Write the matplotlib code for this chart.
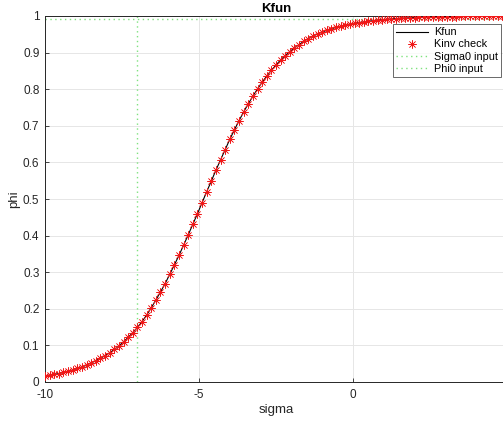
import matplotlib
matplotlib.use('Agg')
import matplotlib.pyplot as plt
import numpy as np

plt.rcParams['font.family'] = ['Liberation Sans', 'DejaVu Sans']

# sigma grid: -10 to 5 in steps of 0.15
sigma = np.linspace(-10, 5, 101)

# phi values
phi = [
    0.017, 0.019, 0.021, 0.023, 0.026, 0.029, 0.033, 0.037, 0.041, 0.046,
    0.052, 0.058, 0.065, 0.072, 0.080, 0.089, 0.099, 0.110, 0.122, 0.135,
    0.149, 0.165, 0.183, 0.203, 0.224, 0.246, 0.269, 0.294, 0.320, 0.346,
    0.374, 0.402, 0.431, 0.460, 0.490, 0.520, 0.549, 0.579, 0.607, 0.635,
    0.663, 0.689, 0.714, 0.738, 0.760, 0.781, 0.801, 0.819, 0.836, 0.852,
    0.866, 0.880, 0.892, 0.903, 0.913, 0.922, 0.931, 0.938, 0.945, 0.951,
    0.956, 0.961, 0.965, 0.969, 0.972, 0.975, 0.978, 0.980, 0.982, 0.984,
    0.986, 0.987, 0.989, 0.990, 0.991, 0.992, 0.993, 0.994, 0.9945, 0.995,
    0.9957, 0.9962, 0.9966, 0.997, 0.9973, 0.9976, 0.9979, 0.9981, 0.9983, 0.9985,
    0.9987, 0.9988, 0.999, 0.9991, 0.9992, 0.9993, 0.9994, 0.9994, 0.9995, 0.9996,
    0.9996,
]

sigma0 = -7
phi0 = 0.992

xticks = [-10, -5, 0]
yticks = np.arange(0, 1.01, 0.1)
ytick_labels = ['0', '0.1', '0.2', '0.3', '0.4', '0.5', '0.6', '0.7', '0.8', '0.9', '1']

fig = plt.figure(figsize=(5.03, 4.21), dpi=100)
ax = fig.add_axes([45 / 503, 39 / 421, 462 / 503, 366 / 421])

green = '#7ee27e'
ax.plot(sigma, phi, color='black', linewidth=0.8, label='Kfun', zorder=3)
# MATLAB-style asterisk marker (8 arms)
ax.plot(sigma, phi, linestyle='none', marker=(8, 2, 0), color='#f01818', markersize=6,
        markeredgewidth=0.45, label='Kinv check', zorder=4)
ax.plot([sigma0, sigma0], [0, 1], color=green, linestyle=(0, (1, 2.5)), linewidth=1.0,
        label='Sigma0 input', zorder=2)
ax.plot([-10, 5], [phi0, phi0], color=green, linestyle=(0, (1, 2.5)), linewidth=1.0,
        label='Phi0 input', zorder=2)

ax.set_xlim(-10, 5)
ax.set_ylim(0, 1)
ax.set_xticks(xticks)
ax.set_xticklabels([str(t) for t in xticks])
ax.set_yticks(yticks)
ax.set_yticklabels(ytick_labels)
ax.tick_params(direction='in', length=3, width=0.6, labelsize=8.5,
               colors='#262626', top=False, right=False)
ax.tick_params(axis='x', pad=5)
ax.tick_params(axis='y', pad=4)
ax.grid(True, color='#e6e6e6', linewidth=0.7, zorder=0)
ax.set_axisbelow(True)
for sp in ax.spines.values():
    sp.set_color('#262626')
    sp.set_linewidth(0.7)

ax.set_title('Kfun', fontsize=9.5, fontweight='bold', pad=3)
ax.set_xlabel('sigma', fontsize=9.5, color='#262626', labelpad=2)
ax.set_ylabel('phi', fontsize=9.5, color='#262626', labelpad=2)

leg = ax.legend(loc='upper right', bbox_to_anchor=(0.987, 0.978), fontsize=7.8,
                frameon=True, fancybox=False, edgecolor='#262626',
                borderpad=0.3, labelspacing=0.2, handlelength=3.0,
                handletextpad=0.5, borderaxespad=0)
leg.get_frame().set_linewidth(0.6)

fig.savefig('out.png', dpi=100)
